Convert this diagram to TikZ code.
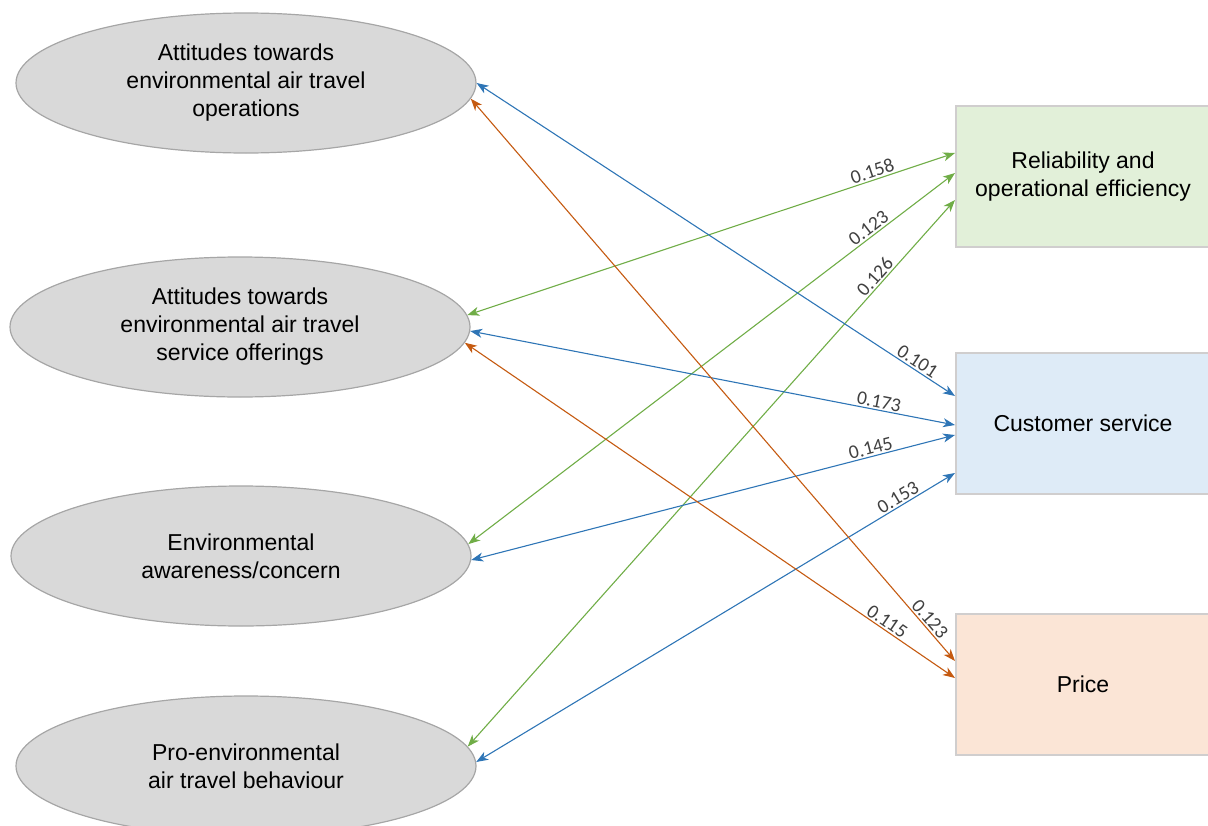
\documentclass[tikz,border=0pt]{standalone}
\usepackage{fontspec}
\setmainfont{Liberation Sans}
\newfontfamily\coeffont{Carlito}
\usetikzlibrary{shapes.geometric,arrows.meta}

\definecolor{ellfill}{HTML}{D9D9D9}
\definecolor{ellline}{HTML}{A6A6A6}
\definecolor{boxline}{HTML}{D0CECE}
\definecolor{relfill}{HTML}{E2F0D9}
\definecolor{csfill}{HTML}{DEEBF7}
\definecolor{pricefill}{HTML}{FBE5D6}
\definecolor{lnblue}{HTML}{2E75B6}
\definecolor{lngreen}{HTML}{70AD47}
\definecolor{lnorange}{HTML}{C55A11}
\definecolor{coefgray}{HTML}{404040}

\tikzset{
  factor/.style={ellipse, draw=ellline, fill=ellfill, line width=1.2pt,
    minimum width=460pt, minimum height=140pt, inner sep=0pt, align=center,
    font=\fontsize{23}{28}\selectfont},
  outcome/.style={rectangle, draw=boxline, line width=2pt,
    minimum width=254pt, minimum height=141pt, inner sep=0pt, align=center,
    font=\fontsize{23}{28}\selectfont},
  link/.style={{Stealth[length=12pt,width=9pt,inset=3.5pt]}-{Stealth[length=12pt,width=9pt,inset=3.5pt]},
    line width=1.1pt},
  coef/.style={font=\coeffont\fontsize{19.5}{21}\selectfont, text=coefgray,
    sloped, above, inner sep=1.5pt}
}

\begin{document}
\begin{tikzpicture}[x=1pt,y=-1pt]
\useasboundingbox (0,0) rectangle (1208,825);
\clip (0,0) rectangle (1208,825);

% attitude / behaviour constructs
\node[factor] (ops) at (246,83) {Attitudes towards\\environmental air travel\\operations};
\node[factor] (svc) at (240,327) {Attitudes towards\\environmental air travel\\service offerings};
\node[factor] (aw)  at (241,556) {Environmental\\awareness/concern};
\node[factor] (beh) at (246,766) {Pro-environmental\\air travel behaviour};

% service quality dimensions
\node[outcome, fill=relfill]   (rel)   at (1083,176.5) {Reliability and\\operational efficiency};
\node[outcome, fill=csfill]    (cs)    at (1083,423)   {Customer service};
\node[outcome, fill=pricefill] (price) at (1083,684)   {Price};

% correlations
\draw[link, lngreen]  (svc.3.5) -- ([yshift=23.5pt]rel.west) node[coef, pos=0.836] {0.158};
\draw[link, lngreen]  (aw.3.5)  -- ([yshift=3.5pt]rel.west)  node[coef, pos=0.833] {0.123};
\draw[link, lngreen]  (beh.5.9) -- ([yshift=-23.5pt]rel.west) node[coef, pos=0.849] {0.126};

\draw[link, lnblue]   (ops.-0.5) -- ([yshift=27pt]cs.west)  node[coef, pos=0.912] {0.101};
\draw[link, lnblue]   (svc.-1)   -- ([yshift=-2pt]cs.west)  node[coef, pos=0.84]  {0.173};
\draw[link, lnblue]   (aw.-1.8)  -- ([yshift=-12pt]cs.west) node[coef, pos=0.83]  {0.145};
\draw[link, lnblue]   (beh.1)    -- ([yshift=-50pt]cs.west) node[coef, pos=0.89]  {0.153};

\draw[link, lnorange] (ops.-4.4) -- ([yshift=23pt]price.west) node[coef, pos=0.935] {0.123};
\draw[link, lnorange] (svc.-4)   -- ([yshift=6pt]price.west)  node[coef, pos=0.852] {0.115};
\end{tikzpicture}
\end{document}
